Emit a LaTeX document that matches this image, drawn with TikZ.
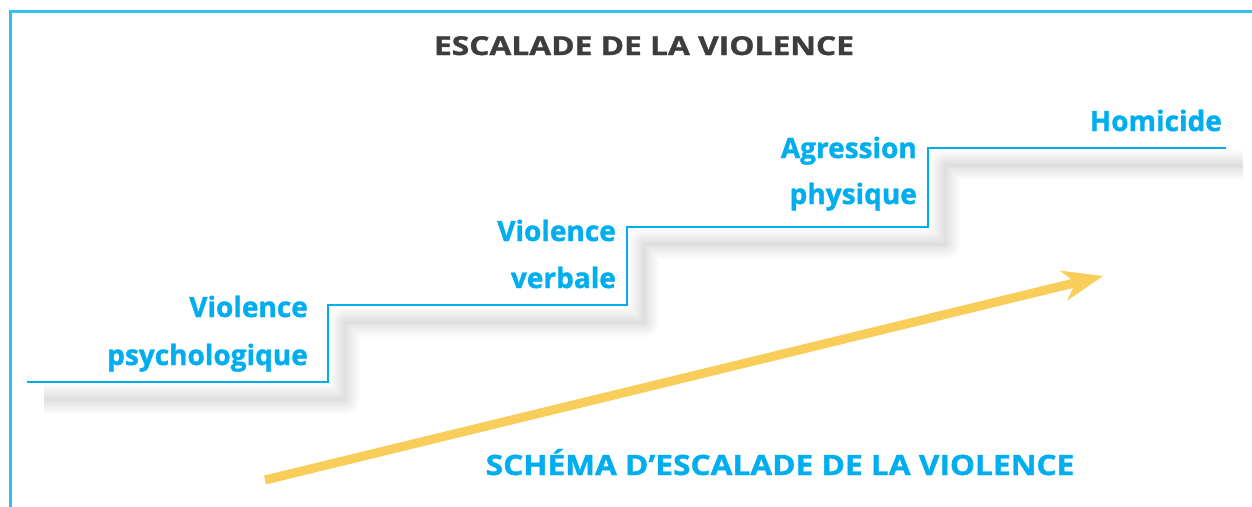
\documentclass[tikz,border=0pt]{standalone}
\usepackage{fontspec}
\setmainfont{Open Sans}[BoldFeatures={FakeBold=1.2}]
\usetikzlibrary{arrows.meta}
\definecolor{cyanb}{HTML}{00AEEF}
\definecolor{ttl}{HTML}{3D3D3D}
\definecolor{yel}{HTML}{F9CD5A}
\definecolor{frm}{HTML}{33C0F0}
\begin{document}
\begin{tikzpicture}[x=1pt,y=-1pt,
  lbl/.style={text=cyanb,font=\fontsize{28}{30}\selectfont\bfseries,inner sep=0pt,anchor=base east},
  stair/.style={draw=cyanb,line width=2.5pt},
  shade/.style={draw=black,line join=round,opacity=0.017},
  frame/.style={draw=frm,line width=3pt}]
\useasboundingbox (0,0) rectangle (1252,506);
\clip (0,0) rectangle (1252,506);
\draw[frame] (10,11) rectangle (1270,530);
% stair coordinates
\coordinate (s0) at (27,382);
\coordinate (s1) at (328,382);
\coordinate (s2) at (328,305);
\coordinate (s3) at (627,305);
\coordinate (s4) at (627,227);
\coordinate (s5) at (928,227);
\coordinate (s6) at (928,148);
\coordinate (s7) at (1226,148);
% shadow (soft, offset)
\foreach \w in {30,26,22,18,14,10,6,3}{
  \draw[shade,line width=\w pt] ([shift={(17,17)}]s0) -- ([shift={(17,17)}]s1) -- ([shift={(17,17)}]s2) -- ([shift={(17,17)}]s3) -- ([shift={(17,17)}]s4) -- ([shift={(17,17)}]s5) -- ([shift={(17,17)}]s6) -- ([shift={(17,17)}]s7);
}
\draw[stair] (s0) -- (s1) -- (s2) -- (s3) -- (s4) -- (s5) -- (s6) -- (s7);
% title
\node[text=ttl,font=\fontsize{26}{30}\selectfont\bfseries,inner sep=0pt,anchor=base,xscale=1.22] (title) at (644,55) {ESCALADE DE LA VIOLENCE};
% labels
\node[lbl] (psyA) at (308,317) {Violence};
\node[lbl] (psyB) at (308,365) {psychologique};
\node[lbl] (verA) at (616,241) {Violence};
\node[lbl] (verB) at (616,288) {verbale};
\node[lbl] (agrA) at (917,158) {Agression};
\node[lbl] (agrB) at (917,204) {physique};
\node[lbl] (hom) at (1222,131) {Homicide};
% arrow
\coordinate (a0) at (265,480);
\coordinate (a1) at (1103,276);
\draw[yel,line width=9pt,-{Stealth[length=40pt,width=30pt,inset=12pt]}] (a0) -- (a1);
\node[text=cyanb,font=\fontsize{28}{30}\selectfont\bfseries,inner sep=0pt,anchor=base,xscale=1.13] (sub) at (780,475) {SCHÉMA D’ESCALADE DE LA VIOLENCE};
\end{tikzpicture}
\end{document}
